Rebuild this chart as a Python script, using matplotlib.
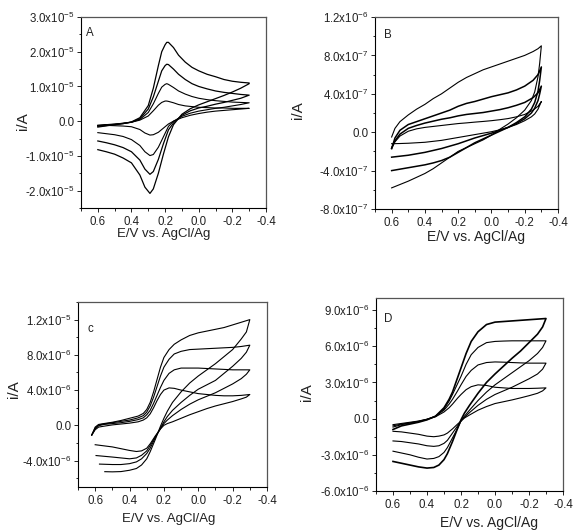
import numpy as np
import matplotlib.pyplot as plt
from matplotlib.ticker import MultipleLocator, FixedLocator, FuncFormatter

plt.rcParams["font.family"] = ["Liberation Sans", "DejaVu Sans"]
plt.rcParams["mathtext.fontset"] = "custom"
plt.rcParams["mathtext.rm"] = "Liberation Sans"
plt.rcParams["mathtext.it"] = "Liberation Sans:italic"
plt.rcParams["mathtext.bf"] = "Liberation Sans:bold"

W, H = 574, 531

# ------------------------------------------------------------
# PANEL A  (current in 1e-5 A)
# ------------------------------------------------------------
a_E_up = [0.6, 0.5, 0.45, 0.4, 0.35, 0.3, 0.27, 0.24, 0.22, 0.2, 0.19, 0.18, 0.15,
          0.12, 0.08, 0.04, 0.0, -0.05, -0.1, -0.15, -0.2, -0.25, -0.3]
a_up = [
    [-0.12, -0.08, -0.06, -0.03, 0.03, 0.15, 0.30, 0.46, 0.54, 0.58, 0.58, 0.57, 0.53,
     0.48, 0.44, 0.42, 0.40, 0.39, 0.38, 0.38, 0.37, 0.37, 0.37],
    [-0.13, -0.09, -0.06, -0.03, 0.05, 0.25, 0.50, 0.80, 0.98, 1.06, 1.08, 1.06, 0.97,
     0.87, 0.78, 0.71, 0.66, 0.62, 0.59, 0.57, 0.55, 0.54, 0.53],
    [-0.15, -0.10, -0.07, -0.03, 0.07, 0.35, 0.70, 1.15, 1.45, 1.60, 1.64, 1.63, 1.50,
     1.35, 1.20, 1.08, 1.00, 0.93, 0.87, 0.83, 0.80, 0.77, 0.75],
    [-0.17, -0.10, -0.07, -0.02, 0.10, 0.45, 0.95, 1.60, 2.00, 2.20, 2.27, 2.27, 2.12,
     1.90, 1.70, 1.55, 1.45, 1.35, 1.28, 1.20, 1.15, 1.12, 1.10],
]
a_E_dn = [-0.3, -0.25, -0.2, -0.15, -0.1, -0.05, 0.0, 0.05, 0.1, 0.15, 0.18, 0.21,
          0.24, 0.27, 0.29, 0.32, 0.35, 0.4, 0.45, 0.5, 0.55, 0.6]
a_dn = [
    [0.37, 0.35, 0.33, 0.31, 0.29, 0.26, 0.22, 0.17, 0.10, 0.0, -0.08, -0.20,
     -0.32, -0.39, -0.40, -0.34, -0.24, -0.16, -0.14, -0.13, -0.12, -0.12],
    [0.53, 0.48, 0.44, 0.40, 0.37, 0.33, 0.29, 0.23, 0.14, 0.0, -0.15, -0.45,
     -0.75, -0.96, -0.99, -0.88, -0.70, -0.53, -0.44, -0.39, -0.36, -0.33],
    [0.75, 0.66, 0.60, 0.54, 0.49, 0.43, 0.38, 0.30, 0.17, -0.05, -0.25, -0.65,
     -1.10, -1.45, -1.53, -1.38, -1.12, -0.88, -0.76, -0.68, -0.62, -0.57],
    [1.08, 0.95, 0.84, 0.74, 0.65, 0.56, 0.47, 0.36, 0.20, -0.10, -0.45, -0.95,
     -1.50, -1.95, -2.08, -1.90, -1.55, -1.20, -1.06, -0.95, -0.88, -0.82],
]

# ------------------------------------------------------------
# PANEL B  (current in 1e-7 A)
# ------------------------------------------------------------
b_E_up = [0.6, 0.58, 0.55, 0.5, 0.45, 0.4, 0.35, 0.3, 0.25, 0.2, 0.15, 0.1, 0.05,
          0.0, -0.05, -0.1, -0.15, -0.2, -0.25, -0.28, -0.3]
b_up = [
    [-1.6, -1.0, -0.4, 0.1, 0.35, 0.5, 0.6, 0.7, 0.8, 0.9, 0.97, 1.05, 1.12,
     1.2, 1.3, 1.42, 1.6, 1.85, 2.3, 2.7, 3.2],
    [-1.7, -0.9, -0.2, 0.4, 0.7, 0.95, 1.15, 1.35, 1.5, 1.7, 1.85, 1.95, 2.05,
     2.2, 2.35, 2.55, 2.8, 3.1, 3.6, 4.1, 4.8],
    [-1.7, -0.6, 0.2, 0.8, 1.1, 1.4, 1.7, 2.0, 2.3, 2.7, 3.0, 3.2, 3.45,
     3.7, 3.9, 4.1, 4.4, 4.8, 5.4, 6.0, 6.8],
    [-0.5, 0.4, 1.1, 1.8, 2.4, 2.9, 3.5, 4.0, 4.6, 5.2, 5.7, 6.1, 6.5,
     6.8, 7.1, 7.4, 7.7, 8.0, 8.4, 8.7, 9.0],
]
b_E_dn = [-0.3, -0.29, -0.28, -0.26, -0.24, -0.2, -0.15, -0.1, -0.05, 0.0, 0.05,
          0.1, 0.15, 0.2, 0.25, 0.3, 0.35, 0.4, 0.45, 0.5, 0.55, 0.6]
b_dn = [
    [3.2, 2.8, 2.4, 1.9, 1.6, 1.2, 0.8, 0.5, 0.25, 0.05, -0.1,
     -0.25, -0.4, -0.55, -0.7, -0.85, -0.95, -1.05, -1.1, -1.15, -1.18, -1.2],
    [4.8, 4.0, 3.3, 2.5, 2.0, 1.4, 0.9, 0.5, 0.2, -0.1, -0.35,
     -0.6, -0.9, -1.2, -1.45, -1.7, -1.9, -2.1, -2.25, -2.4, -2.5, -2.6],
    [6.8, 5.4, 4.3, 3.1, 2.4, 1.6, 1.0, 0.5, 0.1, -0.3, -0.7,
     -1.1, -1.6, -2.1, -2.6, -2.95, -3.2, -3.4, -3.55, -3.7, -3.85, -4.0],
    [9.0, 7.2, 5.8, 4.2, 3.3, 2.3, 1.5, 0.85, 0.3, -0.3, -0.8,
     -1.2, -1.6, -2.0, -2.6, -3.2, -3.8, -4.3, -4.7, -5.1, -5.45, -5.8],
]

# ------------------------------------------------------------
# PANEL C  (current in 1e-6 A)
# ------------------------------------------------------------
c_E_up = [0.62, 0.6, 0.58, 0.55, 0.5, 0.45, 0.4, 0.35, 0.32, 0.3, 0.28, 0.26, 0.24,
          0.22, 0.2, 0.17, 0.14, 0.1, 0.05, 0.0, -0.05, -0.1, -0.15, -0.2, -0.25, -0.3]
c_up = [
    [-1.1, -0.5, -0.2, -0.1, 0.05, 0.15, 0.25, 0.4, 0.6, 0.85, 1.3, 2.0, 2.8,
     3.5, 4.0, 4.25, 4.2, 4.0, 3.8, 3.6, 3.5, 3.4, 3.35, 3.35, 3.4, 3.5],
    [-1.1, -0.4, -0.05, 0.1, 0.2, 0.3, 0.45, 0.65, 0.85, 1.2, 1.7, 2.5, 3.4,
     4.3, 5.1, 5.9, 6.3, 6.5, 6.5, 6.5, 6.45, 6.4, 6.35, 6.3, 6.3, 6.3],
    [-1.1, -0.3, 0.05, 0.15, 0.3, 0.45, 0.6, 0.85, 1.1, 1.5, 2.2, 3.2, 4.4,
     5.6, 6.6, 7.5, 8.1, 8.4, 8.6, 8.65, 8.7, 8.75, 8.8, 8.85, 8.95, 9.1],
    [-1.1, -0.2, 0.1, 0.2, 0.35, 0.55, 0.8, 1.05, 1.35, 1.8, 2.6, 3.8, 5.2,
     6.6, 7.7, 8.6, 9.2, 9.7, 10.2, 10.5, 10.7, 10.9, 11.1, 11.4, 11.7, 12.0],
]
c_E_dn = [-0.3, -0.28, -0.25, -0.2, -0.15, -0.1, -0.05, 0.0, 0.05, 0.1, 0.15, 0.18,
          0.2, 0.22, 0.25, 0.28, 0.3, 0.33, 0.36, 0.4, 0.45, 0.5]
c_dn = [
    [3.5, 3.2, 3.0, 2.7, 2.45, 2.2, 1.9, 1.55, 1.2, 0.8, 0.4, 0.2,
     0.0, -0.4, -1.2, -2.1, -2.6, -2.9, -2.97, -2.85, -2.65, -2.45],
    [6.3, 5.8, 5.3, 4.7, 4.2, 3.7, 3.3, 2.9, 2.4, 1.8, 1.1, 0.6,
     0.2, -0.4, -1.3, -2.3, -2.9, -3.4, -3.7, -3.8, -3.7, -3.6],
    [9.1, 8.3, 7.6, 6.7, 5.9, 5.1, 4.6, 4.1, 3.4, 2.6, 1.7, 1.0,
     0.4, -0.3, -1.4, -2.6, -3.2, -3.8, -4.15, -4.35, -4.45, -4.45],
    [12.0, 10.6, 9.8, 8.6, 7.8, 7.0, 6.3, 5.6, 4.8, 3.8, 2.6, 1.6,
     0.8, -0.1, -1.6, -3.0, -3.8, -4.5, -4.9, -5.1, -5.25, -5.28],
]
c_end_E = [0.60, 0.595, 0.575, 0.544]
c_end_I = [-2.2, -3.43, -4.4, -5.26]

# ------------------------------------------------------------
# PANEL D  (current in 1e-6 A)
# ------------------------------------------------------------
d_E_up = [0.6, 0.55, 0.5, 0.45, 0.4, 0.35, 0.3, 0.27, 0.25, 0.22, 0.2, 0.17, 0.14,
          0.1, 0.05, 0.0, -0.05, -0.1, -0.15, -0.2, -0.25, -0.3]
d_up = [
    [-0.5, -0.4, -0.3, -0.2, -0.05, 0.15, 0.55, 0.9, 1.2, 1.7, 2.0, 2.4, 2.65,
     2.8, 2.75, 2.6, 2.55, 2.5, 2.5, 2.5, 2.52, 2.55],
    [-0.6, -0.45, -0.35, -0.22, -0.05, 0.2, 0.7, 1.2, 1.6, 2.3, 2.8, 3.5, 4.0,
     4.45, 4.65, 4.7, 4.68, 4.65, 4.62, 4.6, 4.6, 4.6],
    [-0.7, -0.5, -0.38, -0.25, -0.08, 0.2, 0.8, 1.45, 2.0, 2.9, 3.5, 4.5, 5.3,
     5.9, 6.3, 6.4, 6.43, 6.45, 6.45, 6.45, 6.45, 6.45],
    [-0.9, -0.6, -0.45, -0.3, -0.1, 0.2, 0.9, 1.6, 2.2, 3.4, 4.2, 5.4, 6.4,
     7.2, 7.8, 8.0, 8.05, 8.1, 8.15, 8.2, 8.25, 8.3],
]
d_E_dn = [-0.3, -0.28, -0.25, -0.2, -0.15, -0.1, -0.05, 0.0, 0.05, 0.1, 0.15, 0.18,
          0.2, 0.22, 0.25, 0.28, 0.3, 0.33, 0.36, 0.4, 0.45, 0.5, 0.55, 0.6]
d_dn = [
    [2.55, 2.3, 2.1, 1.9, 1.72, 1.55, 1.4, 1.25, 1.0, 0.7, 0.3, 0.05,
     -0.2, -0.45, -0.85, -1.2, -1.35, -1.45, -1.5, -1.45, -1.3, -1.2, -1.1, -1.05],
    [4.6, 4.1, 3.7, 3.3, 2.95, 2.6, 2.3, 2.0, 1.6, 1.1, 0.5, 0.1,
     -0.2, -0.6, -1.2, -1.8, -2.05, -2.25, -2.3, -2.25, -2.1, -2.0, -1.9, -1.85],
    [6.45, 5.9, 5.4, 4.8, 4.3, 3.8, 3.3, 2.8, 2.2, 1.5, 0.7, 0.2,
     -0.2, -0.8, -1.6, -2.4, -2.8, -3.15, -3.3, -3.35, -3.2, -3.0, -2.85, -2.7],
    [8.3, 7.6, 7.0, 6.3, 5.6, 5.0, 4.35, 3.7, 3.0, 2.1, 1.1, 0.45,
     -0.1, -0.8, -1.9, -2.9, -3.4, -3.85, -4.05, -4.1, -4.0, -3.85, -3.7, -3.55],
]

x_major = [0.6, 0.4, 0.2, 0.0, -0.2, -0.4]
x_minor = [0.7, 0.5, 0.3, 0.1, -0.1, -0.3]


def sci(v, pos=None):
    if abs(v) < 1e-15:
        return "0.0"
    m, e = f"{v:.1e}".split("e")
    return m + "x10$^{" + str(int(e)) + "}$"


def fpos(x, y):
    return x / W, 1 - y / H


def panel(box, curves, scale, ylim, ystep, letter, letter_xy, ylab_xy, xlab_xy,
          xlab_size, widths):
    l, t, r, b = box
    ax = fig.add_axes([l / W, 1 - b / H, (r - l) / W, (b - t) / H])
    for (E, I), lw in zip(curves, widths):
        ax.plot(E, np.array(I) * scale, color="black", lw=lw)
    ax.set_xlim(0.7, -0.4)
    ax.set_ylim(ylim[0], ylim[1])
    ax.xaxis.set_major_locator(FixedLocator(x_major))
    ax.xaxis.set_minor_locator(FixedLocator(x_minor))
    ax.yaxis.set_major_locator(MultipleLocator(ystep))
    ax.yaxis.set_minor_locator(MultipleLocator(ystep / 2))
    ax.xaxis.set_major_formatter(FuncFormatter(lambda v, p: f"{v:.1f}"))
    ax.yaxis.set_major_formatter(FuncFormatter(sci))
    ax.tick_params(which="both", direction="out", top=False, right=False,
                   width=0.7, labelsize=8.3, colors="#222222")
    ax.tick_params(which="major", length=3.2)
    ax.tick_params(which="minor", length=1.8)
    ax.tick_params(axis="x", pad=2.5)
    ax.tick_params(axis="y", pad=1.5)
    for s in ["left", "bottom"]:
        ax.spines[s].set_linewidth(0.8)
    for s in ["top", "right"]:
        ax.spines[s].set_linewidth(0.9)
        ax.spines[s].set_color("#555555")
    fig.text(*fpos(*letter_xy), letter, ha="left", va="center", fontsize=8.3,
             color="#222222")
    fig.text(*fpos(*ylab_xy), "i/A", ha="center", va="center", rotation=90,
             fontsize=11, color="#222222")
    fig.text(*fpos(*xlab_xy), "E/V vs. AgCl/Ag", ha="center", va="center",
             fontsize=xlab_size, color="#222222")
    return ax


def loops(E_up, up, E_dn, dn, end_E=None, end_I=None):
    out = []
    for k in range(len(up)):
        E = list(E_up) + list(E_dn)
        I = list(up[k]) + list(dn[k])
        if end_E is not None:
            E = E + [end_E[k]]
            I = I + [end_I[k]]
        out.append((E, I))
    return out


fig = plt.figure(figsize=(W / 100, H / 100), dpi=100)

panel((81, 17, 266, 208), loops(a_E_up, a_up, a_E_dn, a_dn), 1e-5,
      (-2.5e-5, 3.0e-5), 1e-5, "A", (86, 33), (23, 121), (164, 234), 9.5,
      [0.8, 0.8, 0.9, 0.9])
panel((375, 17, 558, 209), loops(b_E_up, b_up, b_E_dn, b_dn), 1e-7,
      (-8e-7, 1.2e-6), 4e-7, "B", (384, 35), (298, 110), (476, 237), 10,
      [0.8, 1.1, 1.1, 0.8])
panel((78, 302, 267, 487), loops(c_E_up, c_up, c_E_dn, c_dn, c_end_E, c_end_I),
      1e-6, (-7e-6, 1.4e-5), 4e-6, "c", (88, 329), (14, 389), (169, 519), 9.5,
      [0.8, 0.8, 0.8, 0.8])
panel((376, 298, 563, 491), loops(d_E_up, d_up, d_E_dn, d_dn), 1e-6,
      (-6e-6, 1.0e-5), 3e-6, "D", (384, 319), (307, 392), (489, 523), 10,
      [0.8, 0.8, 0.8, 1.2])

fig.savefig("out.png", dpi=100)
